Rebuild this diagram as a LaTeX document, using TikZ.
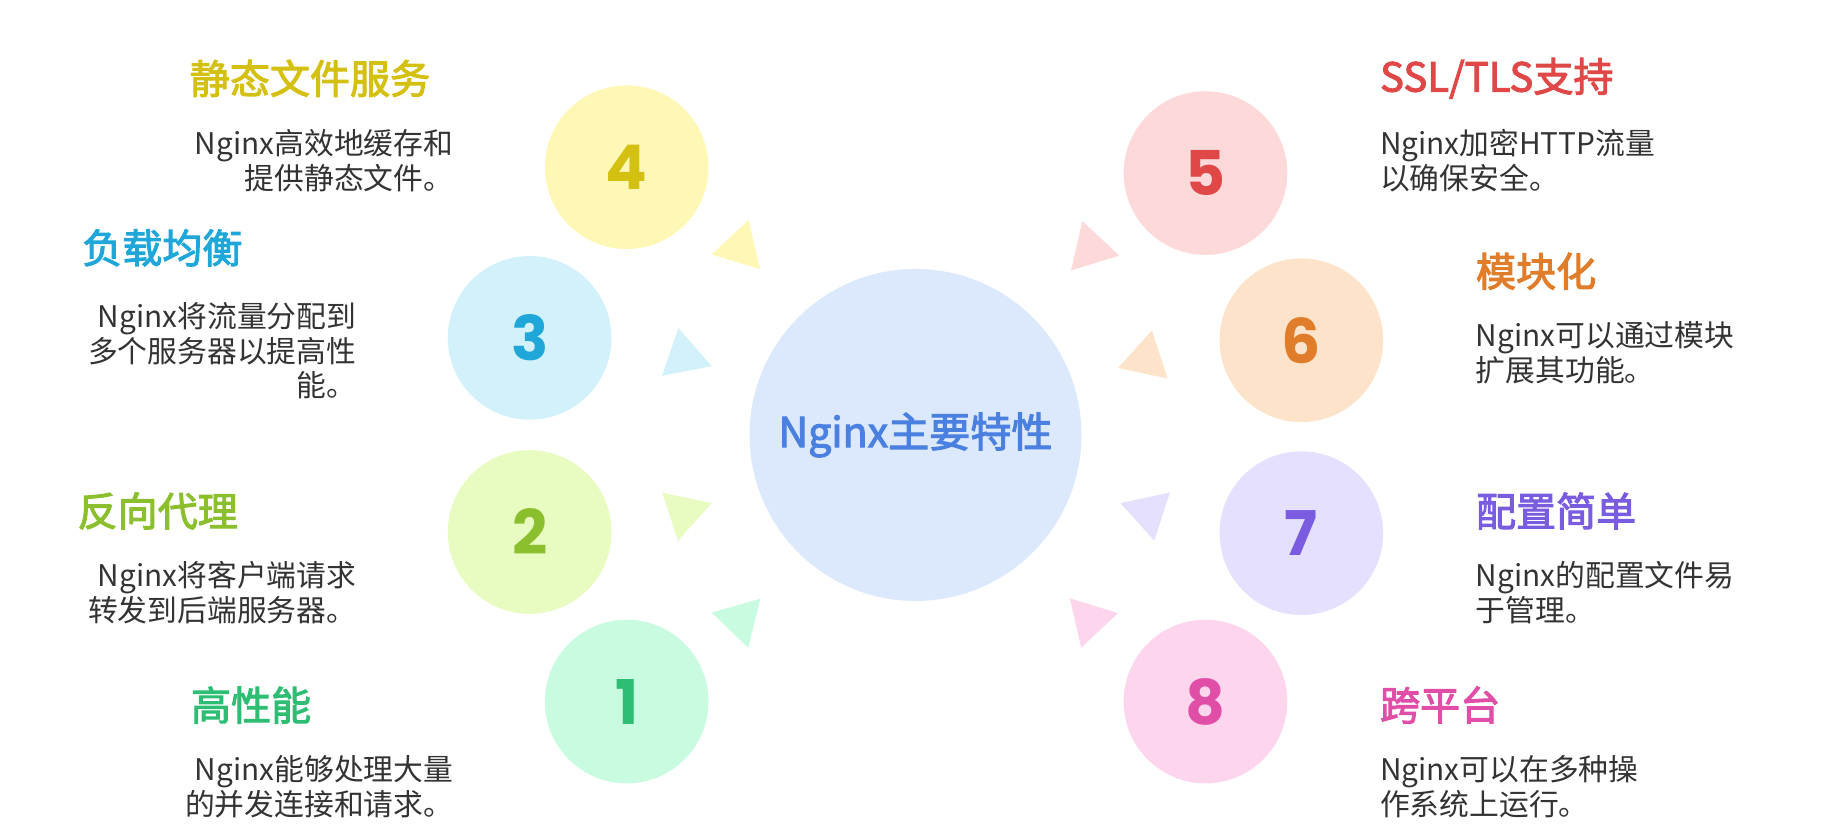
\documentclass[tikz,border=0pt]{standalone}
\usepackage{fontspec}
\setmainfont[AutoFakeBold=2.5]{Noto Sans CJK SC}
\newfontfamily\digitfont{Poppins}
\usetikzlibrary{shapes.geometric}
\definecolor{f1}{HTML}{C9FBE0}\definecolor{d1}{HTML}{2DBE73}
\definecolor{f2}{HTML}{E8FBC0}\definecolor{d2}{HTML}{8BBF2E}
\definecolor{f3}{HTML}{D3F1FB}\definecolor{d3}{HTML}{1EA7D8}
\definecolor{f4}{HTML}{FEF7B5}\definecolor{d4}{HTML}{D4C010}
\definecolor{f5}{HTML}{FDD9D9}\definecolor{d5}{HTML}{E04848}
\definecolor{f6}{HTML}{FDE3C9}\definecolor{d6}{HTML}{E07D2A}
\definecolor{f7}{HTML}{E4E0FD}\definecolor{d7}{HTML}{7A5CE0}
\definecolor{f8}{HTML}{FDD6EE}\definecolor{d8}{HTML}{E04EA8}
\definecolor{fc}{HTML}{DCE8FC}\definecolor{dc}{HTML}{4A80E0}
\definecolor{body}{HTML}{333333}
\begin{document}
\begin{tikzpicture}[x=0.02cm,y=-0.02cm,
  circ/.style={circle,minimum size=2.8cm,inner sep=0pt,font=\digitfont\bfseries\fontsize{30}{30}\selectfont},
  tri/.style={isosceles triangle,isosceles triangle apex angle=60,minimum size=0.75cm,inner sep=0pt},
  ttl/.style={anchor=west,inner sep=0pt,font=\bfseries\fontsize{19.5}{22}\selectfont},
  bodyL/.style={anchor=north east,align=right,text=body,font=\fontsize{14.5}{17}\selectfont,inner sep=0pt},
  bodyR/.style={anchor=north west,align=left,text=body,font=\fontsize{14.5}{17}\selectfont,inner sep=0pt}]
\useasboundingbox (0,0) rectangle (1560,717);
\node[circle,minimum size=5.68cm,fill=fc,text=dc,font=\bfseries\fontsize{20}{22}\selectfont] (c) at (783,372) {Nginx主要特性};
\node[circ,fill=f4,text=d4] (n4) at (536,143) {4};
\node[circ,fill=f3,text=d3] (n3) at (453,289) {3};
\node[circ,fill=f2,text=d2] (n2) at (453,455) {2};
\node[circ,fill=f1,text=d1] (n1) at (536,600) {1};
\node[circ,fill=f5,text=d5] (n5) at (1031,148) {5};
\node[circ,fill=f6,text=d6] (n6) at (1113,291) {6};
\node[circ,fill=f7,text=d7] (n7) at (1113,456) {7};
\node[circ,fill=f8,text=d8] (n8) at (1031,600) {8};
\node[tri,fill=f4,rotate=-47] (t4) at (633,212) {};
\node[tri,fill=f3,rotate=-19] (t3) at (585,305) {};
\node[tri,fill=f2,rotate=18] (t2) at (585,438) {};
\node[tri,fill=f1,rotate=46] (t1) at (633,530) {};
\node[tri,fill=f5,rotate=-133] (t5) at (933,213) {};
\node[tri,fill=f6,rotate=-162] (t6) at (980,307) {};
\node[tri,fill=f7,rotate=162] (t7) at (982,438) {};
\node[tri,fill=f8,rotate=133] (t8) at (932,530) {};
\node[ttl,text=d4] (h4) at (162,67) {静态文件服务};
\node[bodyL] (b4) at (388,110) {Nginx高效地缓存和\\提供静态文件。};
\node[ttl,text=d3] (h3) at (70,212) {负载均衡};
\node[bodyL] (b3) at (305,258) {Nginx将流量分配到\\多个服务器以提高性\\能。};
\node[ttl,text=d2] (h2) at (66,437) {反向代理};
\node[bodyL] (b2) at (305,480) {Nginx将客户端请求\\转发到后端服务器。};
\node[ttl,text=d1] (h1) at (163,603) {高性能};
\node[bodyL] (b1) at (388,646) {Nginx能够处理大量\\的并发连接和请求。};
\node[ttl,text=d5] (h5) at (1180,67) {SSL/TLS支持};
\node[bodyR] (b5) at (1180,110) {Nginx加密HTTP流量\\以确保安全。};
\node[ttl,text=d6] (h6) at (1262,232) {模块化};
\node[bodyR] (b6) at (1262,275) {Nginx可以通过模块\\扩展其功能。};
\node[ttl,text=d7] (h7) at (1262,437) {配置简单};
\node[bodyR] (b7) at (1262,480) {Nginx的配置文件易\\于管理。};
\node[ttl,text=d8] (h8) at (1180,603) {跨平台};
\node[bodyR] (b8) at (1180,646) {Nginx可以在多种操\\作系统上运行。};
\end{tikzpicture}
\end{document}
